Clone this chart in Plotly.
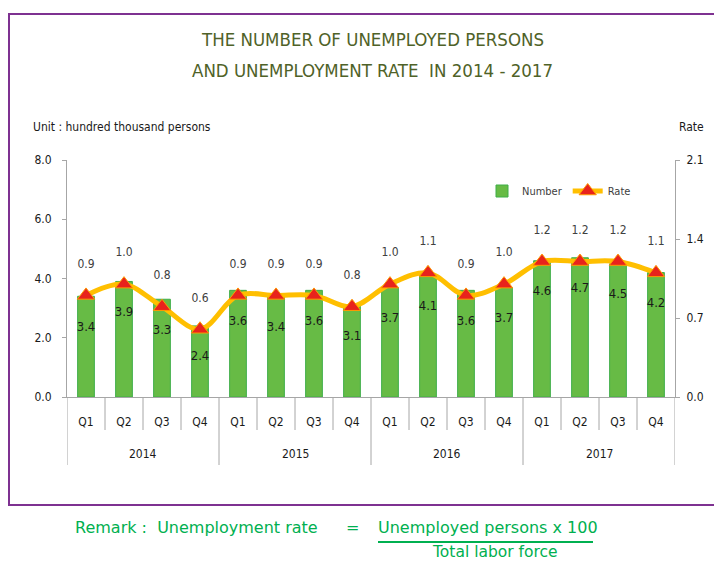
import plotly.graph_objects as go

years = ["2014", "2015", "2016", "2017"]
quarters = ["Q1", "Q2", "Q3", "Q4"]
number = [3.4, 3.9, 3.3, 2.4, 3.6, 3.4, 3.6, 3.1, 3.7, 4.1, 3.6, 3.7, 4.6, 4.7, 4.5, 4.2]
rate = [0.9, 1.0, 0.8, 0.6, 0.9, 0.9, 0.9, 0.8, 1.0, 1.1, 0.9, 1.0, 1.2, 1.2, 1.2, 1.1]

n = len(number)
xi = list(range(n))
qlabels = [q for _ in years for q in quarters]

# page body has an 8px margin: figure is drawn offset by (8, 8)
OFF = 8
W, H = 722 - OFF, 562 - OFF
L, R, T, B = 67 - OFF, 722 - 675, 160 - OFF, 562 - 397
PW, PH = 608, 237

def px(x):
    return (x - 67) / PW

def py(y):
    return (397 - y) / PH

NARROW = "Liberation Sans Narrow, DejaVu Sans Condensed, Liberation Sans, sans-serif"
GREY = "#A6A6A6"

fig = go.Figure()
fig.add_trace(go.Bar(
    x=xi, y=number, name="Number",
    marker=dict(color="#67BB45", line=dict(color="#3FAE49", width=1)),
    width=0.44, hoverinfo="skip",
))
fig.add_trace(go.Scatter(
    x=xi, y=number, mode="markers+text", text=[f"{v:.1f}" for v in number],
    textposition="bottom center", marker=dict(size=38, opacity=0),
    textfont=dict(family=NARROW, size=13, color="#1A1A1A"),
    showlegend=False, hoverinfo="skip",
))
fig.add_trace(go.Scatter(
    x=xi, y=rate, name="Rate", yaxis="y2", mode="lines+markers",
    line=dict(color="#FFBF00", width=5, shape="spline"),
    marker=dict(symbol="triangle-up", size=15, color="#E8231C",
                line=dict(color="#FF9900", width=1)),
    hoverinfo="skip",
))
fig.add_trace(go.Scatter(
    x=xi, y=rate, yaxis="y2", mode="markers+text", text=[f"{v:.1f}" for v in rate],
    textposition="top center", marker=dict(size=38, opacity=0),
    textfont=dict(family=NARROW, size=12, color="#404040"),
    showlegend=False, hoverinfo="skip",
))

ann = []
for txt, yy in [("THE NUMBER OF UNEMPLOYED PERSONS", 40), ("AND UNEMPLOYMENT RATE  IN 2014 - 2017", 70)]:
    ann.append(dict(text=txt, x=px(372), y=py(yy), xref="paper", yref="paper", showarrow=False,
                    xanchor="center", yanchor="middle",
                    font=dict(family=NARROW, size=18.5, color="#4F6228")))
ann.append(dict(text="Unit : hundred thousand persons", x=px(31), y=py(127), xref="paper", yref="paper",
                showarrow=False, xanchor="left", yanchor="middle",
                font=dict(family=NARROW, size=12, color="#1A1A1A")))
ann.append(dict(text="Rate", x=px(706), y=py(127), xref="paper", yref="paper",
                showarrow=False, xanchor="right", yanchor="middle",
                font=dict(family=NARROW, size=12, color="#1A1A1A")))
# year group labels
for k, yr in enumerate(years):
    idx = [i for i in xi if i // len(quarters) == k]
    ann.append(dict(text=yr, x=sum(idx) / len(idx), y=py(454), xref="x", yref="paper",
                    showarrow=False, xanchor="center", yanchor="middle",
                    font=dict(family=NARROW, size=12, color="#1A1A1A")))

GREEN = "#00B050"
RF = dict(family="DejaVu Sans, Verdana, sans-serif", size=16, color=GREEN)
rem = [
    dict(text="Remark :  Unemployment rate", x=px(73), y=py(527), xanchor="left"),
    dict(text="=", x=px(352), y=py(527), xanchor="center"),
    dict(text="Unemployed persons x 100", x=px(488), y=py(527), xanchor="center"),
    dict(text="Total labor force", x=px(495), y=py(552), xanchor="center"),
]
for a in rem:
    a.update(xref="paper", yref="paper", showarrow=False, yanchor="middle", font=RF)
rem[-1]["font"] = dict(RF, size=15.5)
ann += rem

shapes = [
    dict(type="rect", xref="paper", yref="paper", x0=px(9), x1=px(740), y0=py(505), y1=py(14),
         line=dict(color="#7E3191", width=2), fillcolor="rgba(0,0,0,0)", layer="below"),
    dict(type="line", xref="paper", yref="paper", x0=px(378), x1=px(593), y0=py(542), y1=py(542),
         line=dict(color=GREEN, width=2)),
]
# category separators below the axis
for i in range(n + 1):
    long_ = i % len(quarters) == 0
    shapes.append(dict(type="line", xref="x", yref="paper", x0=i - 0.5, x1=i - 0.5,
                       y0=0, y1=py(465 if long_ else 430),
                       line=dict(color=GREY, width=1)))

fig.update_layout(
    width=W, height=H, margin=dict(l=L, r=R, t=T, b=B),
    paper_bgcolor="white", plot_bgcolor="white",
    font=dict(family=NARROW, size=11, color="#1A1A1A"),
    xaxis=dict(range=[-0.5, n - 0.5], tickvals=xi, ticktext=qlabels, showline=True,
               linecolor=GREY, linewidth=1, ticks="", ticklabelstandoff=14, showgrid=False,
               zeroline=False, tickfont=dict(family=NARROW, size=12, color="#1A1A1A")),
    yaxis=dict(range=[0, 8], dtick=2, tickformat=".1f", showgrid=False, zeroline=False,
               showline=True, linecolor=GREY, ticks="outside", ticklen=4, tickcolor=GREY,
               ticklabelstandoff=8, tickfont=dict(family=NARROW, size=12, color="#1A1A1A")),
    yaxis2=dict(range=[0, 2.1], dtick=0.7, tickformat=".1f", overlaying="y", side="right",
                showgrid=False, zeroline=False, showline=True, linecolor=GREY,
                ticks="outside", ticklen=4, tickcolor=GREY, ticklabelstandoff=4,
                tickfont=dict(family=NARROW, size=12, color="#1A1A1A")),
    legend=dict(orientation="h", x=px(482), y=py(191), xanchor="left", yanchor="middle",
                font=dict(family=NARROW, size=11, color="#404040"), bgcolor="rgba(0,0,0,0)",
                itemwidth=30, tracegroupgap=0),
    annotations=ann, shapes=shapes,
)

fig.write_html("out.html")
